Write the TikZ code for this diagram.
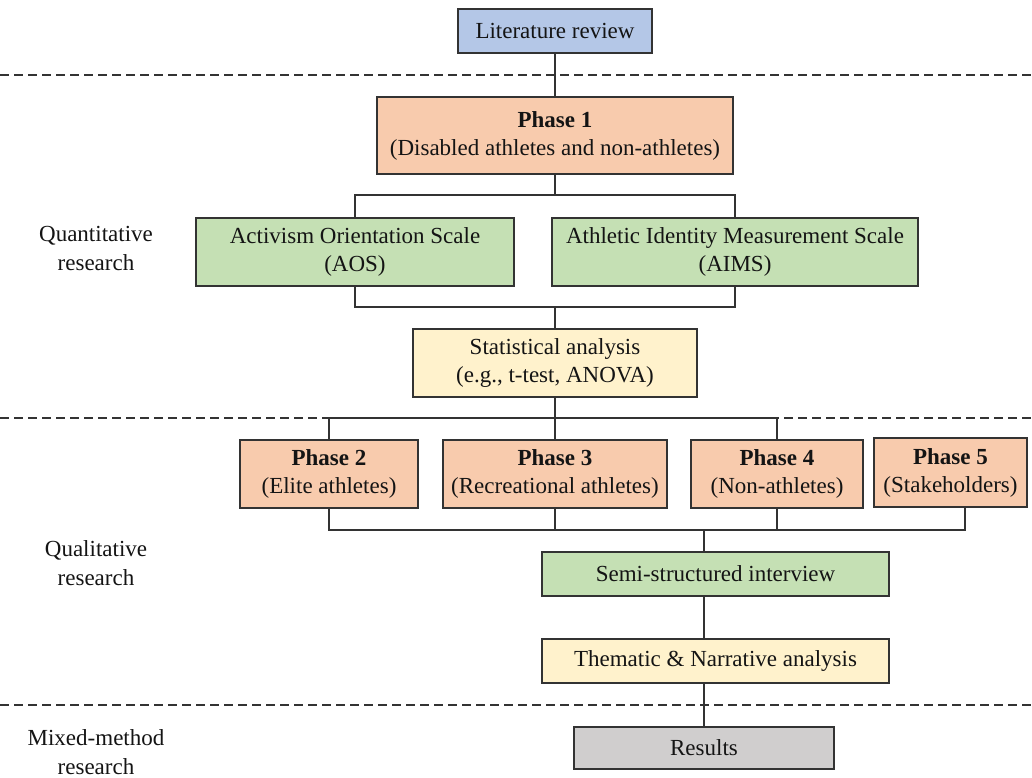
\documentclass[tikz,border=0pt]{standalone}
\usepackage{fontspec}
\setmainfont{Liberation Serif}
\definecolor{cblue}{HTML}{B4C7E7}
\definecolor{corange}{HTML}{F8CBAD}
\definecolor{cgreen}{HTML}{C5E0B4}
\definecolor{cyellow}{HTML}{FFF2CC}
\definecolor{cgrey}{HTML}{D0CECE}
\definecolor{cline}{HTML}{333333}
\definecolor{ctext}{HTML}{141414}
\begin{document}
\begin{tikzpicture}[x=1pt,y=-1pt,
  box/.style={draw=cline, line width=1.4pt, inner sep=0pt, align=center,
    font=\fontsize{23}{28}\selectfont, text=ctext},
  conn/.style={draw=cline, line width=1.6pt},
  sep/.style={draw=cline, line width=1.2pt, dash pattern=on 9pt off 5pt},
  lbl/.style={align=center, font=\fontsize{23}{29}\selectfont, text=ctext}]
\useasboundingbox (0,0) rectangle (1032,778);
\fill[white] (0,0) rectangle (1032,778);
% separators
\draw[sep] (0,75) -- (1032,75);
\draw[sep] (0,418) -- (1032,418);
\draw[sep] (0,705) -- (1032,705);
% boxes
\node[box, fill=cblue, minimum width=194pt, minimum height=44pt] (lit) at (555,31) {Literature review};
\node[box, fill=corange, minimum width=356pt, minimum height=77pt] (p1) at (555,135.5) {\textbf{Phase 1}\\(Disabled athletes and non-athletes)};
\node[box, fill=cgreen, minimum width=318pt, minimum height=68pt] (aos) at (355,252) {Activism Orientation Scale\\(AOS)};
\node[box, fill=cgreen, minimum width=366pt, minimum height=68pt] (aims) at (735,252) {Athletic Identity Measurement Scale\\(AIMS)};
\node[box, fill=cyellow, minimum width=284pt, minimum height=68pt] (stat) at (555,363) {Statistical analysis\\(e.g., t-test, ANOVA)};
\node[box, fill=corange, minimum width=178pt, minimum height=68pt] (p2) at (329,474) {\textbf{Phase 2}\\(Elite athletes)};
\node[box, fill=corange, minimum width=224pt, minimum height=68pt] (p3) at (555,474) {\textbf{Phase 3}\\(Recreational athletes)};
\node[box, fill=corange, minimum width=172pt, minimum height=68pt] (p4) at (777,474) {\textbf{Phase 4}\\(Non-athletes)};
\node[box, fill=corange, minimum width=153pt, minimum height=69pt] (p5) at (950.5,472.5) {\textbf{Phase 5}\\(Stakeholders)};
\node[box, fill=cgreen, minimum width=347pt, minimum height=44pt] (semi) at (715.5,574) {Semi-structured interview};
\node[box, fill=cyellow, minimum width=347pt, minimum height=44pt] (them) at (715.5,661) {Thematic \& Narrative analysis};
\node[box, fill=cgrey, minimum width=260pt, minimum height=42pt] (res) at (704,748) {Results};
% side labels
\node[lbl] (qn) at (96,248) {Quantitative\\research};
\node[lbl] (ql) at (96,563) {Qualitative\\research};
\node[lbl] (mx) at (96,752) {Mixed-method\\research};
% connectors
\coordinate (j1) at (555,195);
\coordinate (j2) at (555,307);
\coordinate (j3) at (555,418);
\coordinate (j4) at (704,530);
\draw[conn] (lit.south) -- (p1.north);
\draw[conn] (p1.south) -- (j1);
\draw[conn] (aos.north) |- (j1) -| (aims.north);
\draw[conn] (aos.south) |- (j2) -| (aims.south);
\draw[conn] (j2) -- (stat.north);
\draw[conn] (stat.south) -- (p3.north);
\draw[conn] (p2.north) |- (j3) -| (p4.north);
\draw[conn] (p2.south) |- (j4);
\draw[conn] (p3.south) -- (p3.south |- j4);
\draw[conn] (p4.south) -- (p4.south |- j4);
\draw[conn] (j4) -| ([xshift=14.5pt]p5.south);
\draw[conn] (j4) -- (j4 |- semi.north);
\draw[conn] (j4 |- semi.south) -- (j4 |- them.north);
\draw[conn] (j4 |- them.south) -- (res.north);
\end{tikzpicture}
\end{document}
